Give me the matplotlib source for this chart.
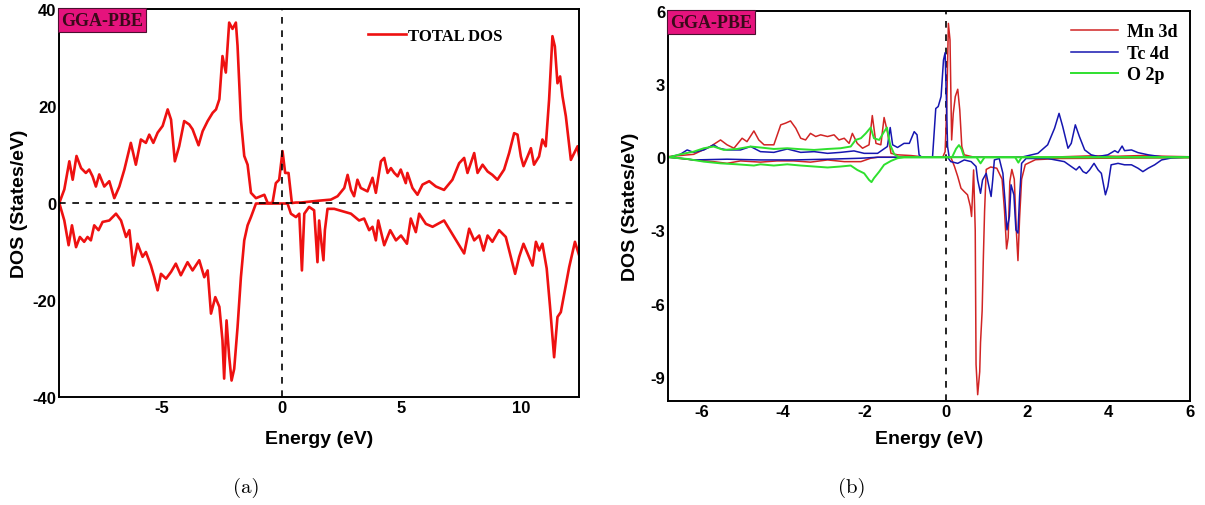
import matplotlib
matplotlib.use("Agg")
import matplotlib.pyplot as plt

plt.rcParams["axes.unicode_minus"] = False

# ---- total DOS, spin up / spin down (eV, states/eV) ----
tot_up_e = [-9.29, -9.08, -8.87, -8.73, -8.57, -8.38, -8.18, -8.04, -7.90, -7.76, -7.62, -7.41,
            -7.20, -6.99, -6.78, -6.57, -6.30, -6.09, -5.88, -5.67, -5.53, -5.36, -5.18, -4.97,
            -4.76, -4.62, -4.46, -4.28, -4.07, -3.86, -3.72, -3.47, -3.30, -3.09, -2.88, -2.74,
            -2.60, -2.47, -2.33, -2.19, -2.05, -1.91, -1.84, -1.70, -1.56, -1.42, -1.28, -1.07,
            -0.72, -0.58, -0.38, -0.24, -0.10, 0.04, 0.15, 0.29, 0.43, 0.60, 0.81, 1.20, 1.60,
            2.06, 2.34, 2.62, 2.76, 2.90, 3.03, 3.17, 3.31, 3.59, 3.80, 3.94, 4.15, 4.29, 4.43,
            4.57, 4.71, 4.85, 4.98, 5.19, 5.26, 5.47, 5.68, 5.89, 6.17, 6.45, 6.79, 7.14, 7.42,
            7.63, 7.77, 8.05, 8.19, 8.40, 8.61, 8.81, 9.02, 9.30, 9.51, 9.72, 9.86, 10.00, 10.11,
            10.28, 10.42, 10.55, 10.76, 10.90, 11.04, 11.18, 11.32, 11.42, 11.53, 11.64, 11.74,
            11.88, 12.09, 12.23, 12.37, 12.48]
tot_up = [0.0, 2.8, 8.6, 4.8, 9.7, 7.2, 6.2, 6.9, 5.5, 3.4, 5.9, 3.4,
          4.5, 1.0, 3.4, 6.9, 12.4, 7.9, 13.1, 12.4, 14.1, 12.4, 14.5, 15.9,
          19.3, 17.2, 8.6, 11.7, 16.9, 16.2, 15.2, 11.9, 14.8, 16.9, 18.6, 19.3,
          21.4, 30.3, 26.9, 37.2, 35.9, 37.2, 32.4, 17.2, 9.7, 7.9, 2.1, 1.0,
          1.7, 0.0, 0.0, 4.1, 4.8, 10.7, 6.2, 6.2, 0.0, 0.1, 0.1, 0.3, 0.5,
          0.7, 1.4, 3.1, 5.8, 2.7, 1.4, 4.8, 3.1, 2.4, 5.2, 2.1, 8.6, 9.3, 6.2,
          7.2, 6.2, 5.5, 6.9, 4.1, 6.2, 3.1, 1.7, 3.8, 4.5, 3.4, 2.7, 4.8, 8.2,
          9.3, 6.2, 10.3, 6.2, 7.9, 6.5, 5.8, 4.8, 6.9, 10.3, 14.4, 14.1, 9.6, 7.6,
          9.6, 11.3, 7.9, 9.6, 13.1, 11.7, 21.3, 34.4, 32.3, 24.7, 26.1, 22.0,
          17.9, 8.9, 10.3, 11.7, 8.2]

tot_dn_e = [-9.29, -9.08, -8.90, -8.76, -8.59, -8.43, -8.25, -8.11, -7.97, -7.83, -7.65, -7.48,
            -7.20, -6.92, -6.71, -6.50, -6.36, -6.20, -6.02, -5.81, -5.67, -5.46, -5.32, -5.18,
            -5.04, -4.83, -4.62, -4.42, -4.21, -3.93, -3.72, -3.44, -3.23, -3.09, -2.95, -2.77,
            -2.60, -2.47, -2.40, -2.30, -2.19, -2.09, -1.98, -1.84, -1.70, -1.56, -1.42, -1.28,
            -1.07, 0.25, 0.39, 0.60, 0.74, 0.85, 0.95, 1.15, 1.36, 1.50, 1.57, 1.67, 1.75,
            1.81, 1.92, 2.20, 2.90, 3.24, 3.45, 3.66, 3.80, 3.94, 4.04, 4.29, 4.54, 4.78, 4.99,
            5.24, 5.40, 5.61, 5.75, 6.03, 6.31, 6.79, 7.21, 7.63, 7.84, 8.05, 8.26, 8.44, 8.61,
            8.81, 9.09, 9.37, 9.58, 9.76, 9.93, 10.11, 10.28, 10.49, 10.63, 10.77, 10.90, 11.08,
            11.22, 11.39, 11.53, 11.67, 11.84, 12.02, 12.26, 12.48]
tot_dn = [0.0, -3.6, -8.7, -4.6, -9.1, -7.0, -8.0, -7.0, -7.7, -4.6, -5.6, -3.9,
          -3.6, -2.2, -3.6, -7.0, -5.6, -12.9, -8.4, -11.1, -10.1, -12.9, -15.3, -18.0,
          -14.6, -15.6, -14.2, -12.5, -14.9, -12.2, -13.9, -11.8, -15.3, -13.9, -22.8, -19.4,
          -21.4, -28.3, -36.2, -24.2, -31.7, -36.6, -34.2, -25.6, -15.3, -7.7, -4.6, -2.9,
          -0.1, -0.1, -2.2, -2.9, -2.2, -13.9, -2.2, -0.8, -1.5, -12.2, -3.6, -8.4, -11.8,
          -5.6, -1.2, -1.2, -2.2, -3.6, -3.2, -5.6, -4.9, -7.7, -3.6, -8.7, -5.6, -7.7, -6.7,
          -8.4, -3.2, -6.0, -2.2, -4.3, -4.9, -3.6, -7.0, -10.4, -5.3, -7.7, -6.7, -9.8, -6.7,
          -8.0, -5.6, -7.0, -11.1, -14.6, -11.1, -8.4, -10.4, -12.9, -8.0, -9.8, -8.4, -13.5,
          -21.4, -31.8, -23.5, -22.5, -18.0, -13.2, -8.0, -11.5]

# ---- partial DOS ----
mn_up_e = [-6.81, -6.20, -5.79, -5.54, -5.38, -5.21, -5.01, -4.89, -4.72, -4.60, -4.47, -4.23,
           -4.06, -3.94, -3.82, -3.69, -3.57, -3.45, -3.33, -3.20, -3.08, -2.91, -2.75, -2.63,
           -2.50, -2.38, -2.30, -2.18, -2.05, -1.89, -1.81, -1.72, -1.60, -1.52, -1.44, -1.35,
           -1.19, -0.86, -0.53, -0.08, -0.02, 0.02, 0.06, 0.10, 0.14, 0.18, 0.23, 0.29, 0.34,
           0.39, 0.45, 0.70, 2.5, 3.6, 4.2, 4.8, 5.4, 6.0]
mn_up = [0.03, 0.12, 0.44, 0.71, 0.51, 0.37, 0.78, 0.64, 1.08, 0.71, 0.51, 0.51,
         1.33, 1.40, 1.49, 1.19, 0.78, 0.71, 0.98, 0.85, 0.92, 0.85, 0.92, 0.71,
         0.78, 0.57, 0.98, 0.57, 0.37, 0.51, 1.71, 0.57, 0.51, 1.63, 1.05, 0.16,
         0.10, 0.07, 0.01, 0.0, 0.23, 2.08, 5.49, 4.81, 0.71, 1.80, 2.49, 2.79, 1.94,
         0.44, 0.10, 0.0, 0.0, 0.06, 0.04, 0.07, 0.04, 0.02]

mn_dn_e = [-6.81, -6.20, -5.71, -5.38, -5.05, -4.56, -4.15, -3.74, -3.33, -2.91, -2.50, -2.09,
           -1.85, -1.68, 0.0, 0.12, 0.21, 0.29, 0.37, 0.45, 0.53, 0.60, 0.63, 0.68, 0.72,
           0.74, 0.78, 0.83, 0.85, 0.89, 0.92, 0.95, 0.99, 1.10, 1.25, 1.38, 1.44, 1.49, 1.53,
           1.57, 1.62, 1.68, 1.73, 1.77, 1.81, 1.86, 1.95, 2.20, 2.80, 6.0]
mn_dn = [0.0, -0.11, -0.18, -0.25, -0.15, -0.20, -0.15, -0.15, -0.20, -0.11, -0.18, -0.18,
         -0.04, 0.0, 0.0, 0.0, -0.38, -0.79, -1.27, -1.41, -1.54, -2.02, -2.43, -0.52, -3.0,
         -8.5, -9.74, -8.8, -7.6, -6.3, -4.1, -2.2, -0.5, -0.40, -0.45, -0.9, -2.2, -3.76, -3.3,
         -1.0, -0.5, -0.9, -3.0, -4.24, -2.5, -0.9, -0.3, -0.1, -0.05, -0.02]

tc_up_e = [-6.81, -6.53, -6.36, -6.20, -5.95, -5.71, -5.58, -5.38, -5.05, -4.80, -4.56, -4.23,
           -3.90, -3.57, -3.24, -2.91, -2.59, -2.26, -2.01, -1.68, -1.44, -1.37, -1.31, -1.19,
           -1.03, -0.90, -0.78, -0.71, -0.66, -0.60, -0.33, -0.25, -0.19, -0.12, -0.06, -0.02,
           0.02, 0.04, 0.08, 1.85, 2.26, 2.50, 2.67, 2.78, 2.87, 3.00, 3.08, 3.18, 3.28, 3.41,
           3.57, 3.74, 3.98, 4.15, 4.23, 4.33, 4.39, 4.56, 4.72, 4.97, 5.38, 6.0]
tc_up = [0.0, 0.12, 0.30, 0.20, 0.30, 0.51, 0.37, 0.30, 0.30, 0.44, 0.23, 0.20,
         0.34, 0.20, 0.23, 0.16, 0.20, 0.26, 0.16, 0.16, 0.44, 1.22, 0.51, 0.40,
         0.57, 0.57, 1.05, 0.92, 0.10, 0.0, 0.0, 2.0, 2.08, 2.49, 3.99, 4.29,
         1.80, 0.44, 0.0, 0.0, 0.16, 0.51, 1.19, 1.80, 1.26, 0.37, 0.57, 1.33, 0.85, 0.30,
         0.10, 0.03, 0.10, 0.27, 0.19, 0.46, 0.27, 0.30, 0.19, 0.10, 0.0, 0.0]

tc_dn_e = [-6.81, -6.53, -6.20, -5.38, -4.56, -3.74, -2.91, -2.09, -1.68, 0.04, 0.12, 0.29,
           0.45, 0.62, 0.74, 0.78, 0.85, 0.90, 0.99, 1.04, 1.11, 1.15, 1.19, 1.31, 1.40,
           1.45, 1.50, 1.56, 1.60, 1.67, 1.72, 1.77, 1.81, 1.86, 1.97, 2.50, 2.91, 3.08,
           3.20, 3.28, 3.37, 3.45, 3.53, 3.64, 3.74, 3.82, 3.92, 3.98, 4.06, 4.23, 4.39,
           4.56, 4.72, 4.84, 4.97, 5.13, 5.30, 5.54, 5.87, 6.0]
tc_dn = [0.0, -0.04, -0.11, -0.08, -0.11, -0.11, -0.08, -0.04, 0.0, 0.0, -0.18, -0.25,
         -0.11, -0.18, -0.38, -0.93, -1.48, -0.93, -0.66, -1.07, -1.61, -0.93, -0.11, -0.05, -0.66,
         -1.75, -2.98, -2.43, -1.13, -1.54, -2.98, -3.11, -1.61, -0.25, -0.05, -0.05, -0.18, -0.38,
         -0.52, -0.38, -0.59, -0.66, -0.52, -0.25, -0.52, -0.66, -1.54, -1.20, -0.31, -0.25, -0.31,
         -0.31, -0.45, -0.59, -0.45, -0.31, -0.11, -0.03, 0.0, 0.0]

o_up_e = [-6.81, -6.53, -6.20, -5.95, -5.71, -5.46, -5.13, -4.80, -4.56, -4.23, -3.90, -3.57,
          -3.24, -2.91, -2.59, -2.34, -2.22, -2.09, -1.97, -1.85, -1.77, -1.64, -1.52, -1.45,
          -1.37, -1.27, -1.15, 0.15, 0.25, 0.32, 0.38, 0.45, 6.0]
o_up = [0.0, 0.12, 0.23, 0.37, 0.44, 0.30, 0.34, 0.44, 0.40, 0.34, 0.37, 0.33,
        0.30, 0.34, 0.37, 0.44, 0.71, 0.78, 0.98, 1.22, 0.78, 0.71, 1.05, 1.22,
        0.51, 0.12, 0.0, 0.0, 0.35, 0.50, 0.35, 0.0, 0.0]

o_dn_e = [-6.81, -6.36, -5.95, -5.54, -5.13, -4.72, -4.56, -4.23, -3.90, -3.57, -3.24, -2.91,
          -2.59, -2.34, -2.18, -2.01, -1.89, -1.83, -1.77, -1.64, -1.52, -1.35, -1.19, -1.03,
          0.75, 0.85, 0.95, 1.70, 1.78, 1.86, 6.0]
o_dn = [0.0, -0.07, -0.18, -0.25, -0.29, -0.34, -0.29, -0.34, -0.29, -0.34, -0.38, -0.42,
        -0.38, -0.34, -0.52, -0.66, -0.93, -1.02, -0.86, -0.59, -0.31, -0.15, -0.04, 0.0,
        0.0, -0.25, 0.0, 0.0, -0.22, 0.0, 0.0]

tick_font = {"family": "Liberation Sans", "weight": "bold", "size": 12}
label_font = {"family": "Liberation Sans", "weight": "bold", "size": 14}


def style_axes(ax, xlab_y, ylab_x):
    for s in ax.spines.values():
        s.set_linewidth(1.4)
        s.set_color("black")
    ax.tick_params(length=0, pad=2)
    for t in ax.get_xticklabels() + ax.get_yticklabels():
        t.set_fontproperties(matplotlib.font_manager.FontProperties(**tick_font))
    ax.set_xlabel("Energy (eV)", fontdict=label_font)
    ax.set_ylabel("DOS (States/eV)", fontdict=label_font)
    ax.xaxis.set_label_coords(0.5, xlab_y)
    ax.yaxis.set_label_coords(ylab_x, 0.5)
    ax.text(0.004, 0.993, "GGA-PBE", transform=ax.transAxes, ha="left", va="top",
            family="Liberation Serif", weight="bold", size=13, color="#3a0a1a",
            bbox=dict(boxstyle="square,pad=0.18", fc="#e5137d", ec="#4a1030", lw=0.8))


fig = plt.figure(figsize=(12.05, 5.06), dpi=100)

# (a) total DOS
ax1 = fig.add_axes([0.049, 0.2134, 0.4315, 0.7668])
ax1.plot(tot_up_e, tot_up, color="#ee1111", lw=1.9, label="TOTAL DOS")
ax1.plot(tot_dn_e, tot_dn, color="#ee1111", lw=1.9)
ax1.axvline(0, color="black", ls=(0, (4, 4)), lw=1.2)
ax1.axhline(0, color="black", ls=(0, (4, 4)), lw=1.2)
ax1.set_xlim(-9.3, 12.43)
ax1.set_ylim(-40, 40)
ax1.set_xticks([-5, 0, 5, 10])
ax1.set_yticks([-40, -20, 0, 20, 40])
ax1.legend(loc="upper left", bbox_to_anchor=(0.565, 0.99), frameon=False, handlelength=2.3,
           handletextpad=0.1, prop={"family": "Liberation Serif", "weight": "bold", "size": 12})
style_axes(ax1, -0.085, -0.06)

# (b) partial DOS
ax2 = fig.add_axes([0.5544, 0.2055, 0.4332, 0.7708])
ax2.axvline(0, color="black", ls=(0, (4, 4)), lw=1.2)
ax2.plot(mn_up_e, mn_up, color="#d12424", lw=1.1, label="Mn 3d")
ax2.plot(mn_dn_e, mn_dn, color="#d12424", lw=1.1)
ax2.plot(tc_up_e, tc_up, color="#1616b0", lw=1.1, label="Tc 4d")
ax2.plot(tc_dn_e, tc_dn, color="#1616b0", lw=1.1)
ax2.plot(o_up_e, o_up, color="#2fe02f", lw=1.4, label="O 2p")
ax2.plot(o_dn_e, o_dn, color="#2fe02f", lw=1.4)
ax2.set_xlim(-6.83, 6.0)
ax2.set_ylim(-10, 6)
ax2.set_xticks([-6, -4, -2, 0, 2, 4, 6])
ax2.set_yticks([-9, -6, -3, 0, 3, 6])
ax2.legend(loc="upper left", bbox_to_anchor=(0.74, 1.01), frameon=False, handlelength=2.6,
           handletextpad=0.5, labelspacing=0.25,
           prop={"family": "Liberation Serif", "weight": "bold", "size": 13})
style_axes(ax2, -0.075, -0.055)

fig.text(0.204, 0.035, "(a)", family="cmr10", size=15, ha="center", va="center")
fig.text(0.707, 0.035, "(b)", family="cmr10", size=15, ha="center", va="center")

fig.savefig("out.png", dpi=100)
